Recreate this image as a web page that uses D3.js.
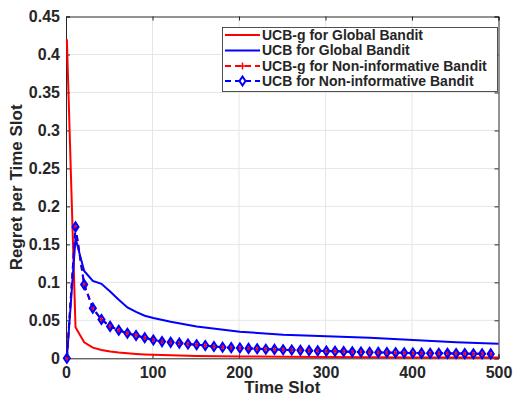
<!DOCTYPE html>
<html>
<head>
<meta charset="utf-8">
<script src="https://cdn.jsdelivr.net/npm/d3@7"></script>
<style>
  body { margin: 0; background: #fff; }
  text { font-family: "Liberation Sans", Arial, sans-serif; font-weight: bold; fill: #262626; }
</style>
</head>
<body>
<svg id="chart" width="513" height="396"></svg>
<script>
// time slots where the global-bandit curves were sampled
const globalT = [1, 11, 21, 31, 41, 51, 61, 71, 81, 91, 101, 121, 151, 201, 251, 301, 351, 401, 451, 500];
const ucbgGlobal = [0.42, 0.041, 0.021, 0.014, 0.011, 0.009, 0.0075, 0.0065, 0.0057, 0.0051, 0.0046, 0.0039, 0.0031, 0.0024, 0.0019, 0.0016, 0.0014, 0.0012, 0.0011, 0.001];
const ucbGlobal = [0, 0.158, 0.115, 0.102, 0.098, 0.088, 0.077, 0.067, 0.061, 0.056, 0.053, 0.048, 0.042, 0.035, 0.031, 0.029, 0.027, 0.024, 0.021, 0.019];

// non-informative bandit: one point every 10 slots
const nonInfT = [1, 11, 21, 31, 41, 51, 61, 71, 81, 91, 101, 111, 121, 131, 141, 151, 161, 171, 181, 191,
  201, 211, 221, 231, 241, 251, 261, 271, 281, 291, 301, 311, 321, 331, 341, 351, 361, 371, 381, 391,
  401, 411, 421, 431, 441, 451, 461, 471, 481, 491];
const ucbgNonInf = [0, 0.173, 0.097, 0.066, 0.051, 0.042, 0.037, 0.033, 0.030, 0.027, 0.024, 0.022, 0.021, 0.020, 0.0188, 0.0178, 0.0168, 0.0155, 0.0145, 0.0140,
  0.0135, 0.0130, 0.0125, 0.0120, 0.0117, 0.0112, 0.0109, 0.0105, 0.0101, 0.0098, 0.0095, 0.0092, 0.0089, 0.0085, 0.0082, 0.0080, 0.0078, 0.0076, 0.0074, 0.0072,
  0.0070, 0.0068, 0.0067, 0.0066, 0.0065, 0.0063, 0.0062, 0.0060, 0.0059, 0.0058];
const ucbNonInf = [0, 0.173, 0.097, 0.066, 0.051, 0.042, 0.037, 0.033, 0.030, 0.027, 0.024, 0.022, 0.021, 0.020, 0.0188, 0.0178, 0.0168, 0.0155, 0.0145, 0.0140,
  0.0135, 0.0130, 0.0125, 0.0120, 0.0117, 0.0112, 0.0109, 0.0105, 0.0101, 0.0098, 0.0095, 0.0092, 0.0089, 0.0085, 0.0082, 0.0080, 0.0078, 0.0076, 0.0074, 0.0072,
  0.0070, 0.0068, 0.0067, 0.0066, 0.0065, 0.0063, 0.0062, 0.0060, 0.0059, 0.0058];

const xTicks = [0, 100, 200, 300, 400, 500];
const yTicks = [0, 0.05, 0.1, 0.15, 0.2, 0.25, 0.3, 0.35, 0.4, 0.45];
const legendLabels = ["UCB-g for Global Bandit", "UCB for Global Bandit", "UCB-g for Non-informative Bandit", "UCB for Non-informative Bandit"];

const margin = { left: 66, right: 498.5, top: 16.5, bottom: 358.3 };
const svg = d3.select("#chart");

const x = d3.scaleLinear().domain([0, 500]).range([margin.left, margin.right]);
const y = d3.scaleLinear().domain([0, 0.45]).range([margin.bottom, margin.top]);

// grid
svg.append("g").selectAll("line").data(xTicks.slice(1, -1)).enter().append("line")
  .attr("x1", d => x(d)).attr("x2", d => x(d))
  .attr("y1", margin.top).attr("y2", margin.bottom)
  .attr("stroke", "#e6e6e6").attr("stroke-width", 1);
svg.append("g").selectAll("line").data(yTicks.slice(1, -1)).enter().append("line")
  .attr("x1", margin.left).attr("x2", margin.right)
  .attr("y1", d => y(d)).attr("y2", d => y(d))
  .attr("stroke", "#e6e6e6").attr("stroke-width", 1);

// axes (ticks inside, like matlab)
const xAxis = svg.append("g").attr("transform", `translate(0,${margin.bottom})`)
  .call(d3.axisBottom(x).tickValues(xTicks).tickSize(-4).tickPadding(8).tickFormat(d3.format("d")));
const yAxis = svg.append("g").attr("transform", `translate(${margin.left},0)`)
  .call(d3.axisLeft(y).tickValues(yTicks).tickSize(-4).tickPadding(6).tickFormat(d => d === 0 ? "0" : String(d)));
const xTop = svg.append("g").attr("transform", `translate(0,${margin.top})`)
  .call(d3.axisTop(x).tickValues(xTicks).tickSize(-4).tickFormat(""));
const yRight = svg.append("g").attr("transform", `translate(${margin.right},0)`)
  .call(d3.axisRight(y).tickValues(yTicks).tickSize(-4).tickFormat(""));

for (const a of [xAxis, yAxis, xTop, yRight]) {
  a.selectAll("path").attr("stroke", "#262626").attr("stroke-width", 1);
  a.selectAll("line").attr("stroke", "#262626");
  a.selectAll("text").style("font-size", "16px").attr("fill", "#262626");
}

// axis labels
svg.append("text").attr("x", (margin.left + margin.right) / 2).attr("y", 393)
  .attr("text-anchor", "middle").style("font-size", "17px").text("Time Slot");
svg.append("text").attr("transform", `translate(22,${(margin.top + margin.bottom) / 2}) rotate(-90)`)
  .attr("text-anchor", "middle").style("font-size", "17px").text("Regret per Time Slot");

const line = d3.line().x(d => x(d[0])).y(d => y(d[1]));
const plot = svg.append("g");

const zipped = (ts, vs) => ts.map((t, i) => [t, vs[i]]);

plot.append("path").datum(zipped(globalT, ucbgGlobal)).attr("d", line)
  .attr("fill", "none").attr("stroke", "#ff0000").attr("stroke-width", 2);
plot.append("path").datum(zipped(globalT, ucbGlobal)).attr("d", line)
  .attr("fill", "none").attr("stroke", "#0000ff").attr("stroke-width", 2);

// red dashed + plus markers
const redPts = zipped(nonInfT, ucbgNonInf);
plot.append("path").datum(redPts).attr("d", line)
  .attr("fill", "none").attr("stroke", "#ff0000").attr("stroke-width", 2).attr("stroke-dasharray", "6,4");
plot.append("g").selectAll("path").data(redPts).enter().append("path")
  .attr("d", d => `M${x(d[0]) - 3.5},${y(d[1])}h7M${x(d[0])},${y(d[1]) - 3.5}v7`)
  .attr("stroke", "#ff0000").attr("stroke-width", 1.5);

// blue dashed + diamond markers
const bluePts = zipped(nonInfT, ucbNonInf);
plot.append("path").datum(bluePts).attr("d", line)
  .attr("fill", "none").attr("stroke", "#0000ff").attr("stroke-width", 2).attr("stroke-dasharray", "6,4");
plot.append("g").selectAll("path").data(bluePts).enter().append("path")
  .attr("d", d => `M${x(d[0])},${y(d[1]) - 4.5}l3,4.5l-3,4.5l-3,-4.5z`)
  .attr("fill", "none").attr("stroke", "#0000ff").attr("stroke-width", 2);
plot.append("g").selectAll("circle").data(redPts).enter().append("circle")
  .attr("cx", d => x(d[0])).attr("cy", d => y(d[1])).attr("r", 1.2).attr("fill", "#ff0000");

// legend
const lg = svg.append("g");
lg.append("rect").attr("x", 222.5).attr("y", 27.5).attr("width", 275).attr("height", 64)
  .attr("fill", "#fff").attr("stroke", "#262626").attr("stroke-width", 0.8);
const rowY = [35, 50.5, 66, 81];
const styles = [
  { c: "#ff0000", dash: null, mk: null },
  { c: "#0000ff", dash: null, mk: null },
  { c: "#ff0000", dash: "6,4", mk: "plus" },
  { c: "#0000ff", dash: "6,4", mk: "diamond" }
];
legendLabels.forEach((lab, i) => {
  const ry = rowY[i], s = styles[i];
  lg.append("line").attr("x1", 225).attr("x2", 260).attr("y1", ry).attr("y2", ry)
    .attr("stroke", s.c).attr("stroke-width", 2).attr("stroke-dasharray", s.dash);
  if (s.mk === "plus") {
    lg.append("path").attr("d", `M${242.5 - 3.5},${ry}h7M242.5,${ry - 3.5}v7`)
      .attr("stroke", s.c).attr("stroke-width", 1.5);
  } else if (s.mk === "diamond") {
    lg.append("path").attr("d", `M242.5,${ry - 4.5}l3,4.5l-3,4.5l-3,-4.5z`)
      .attr("fill", "#fff").attr("stroke", s.c).attr("stroke-width", 2);
  }
  lg.append("text").attr("x", 262).attr("y", ry).attr("dy", "0.35em")
    .style("font-size", "14px").attr("fill", "#000").text(lab);
});
</script>
</body>
</html>
